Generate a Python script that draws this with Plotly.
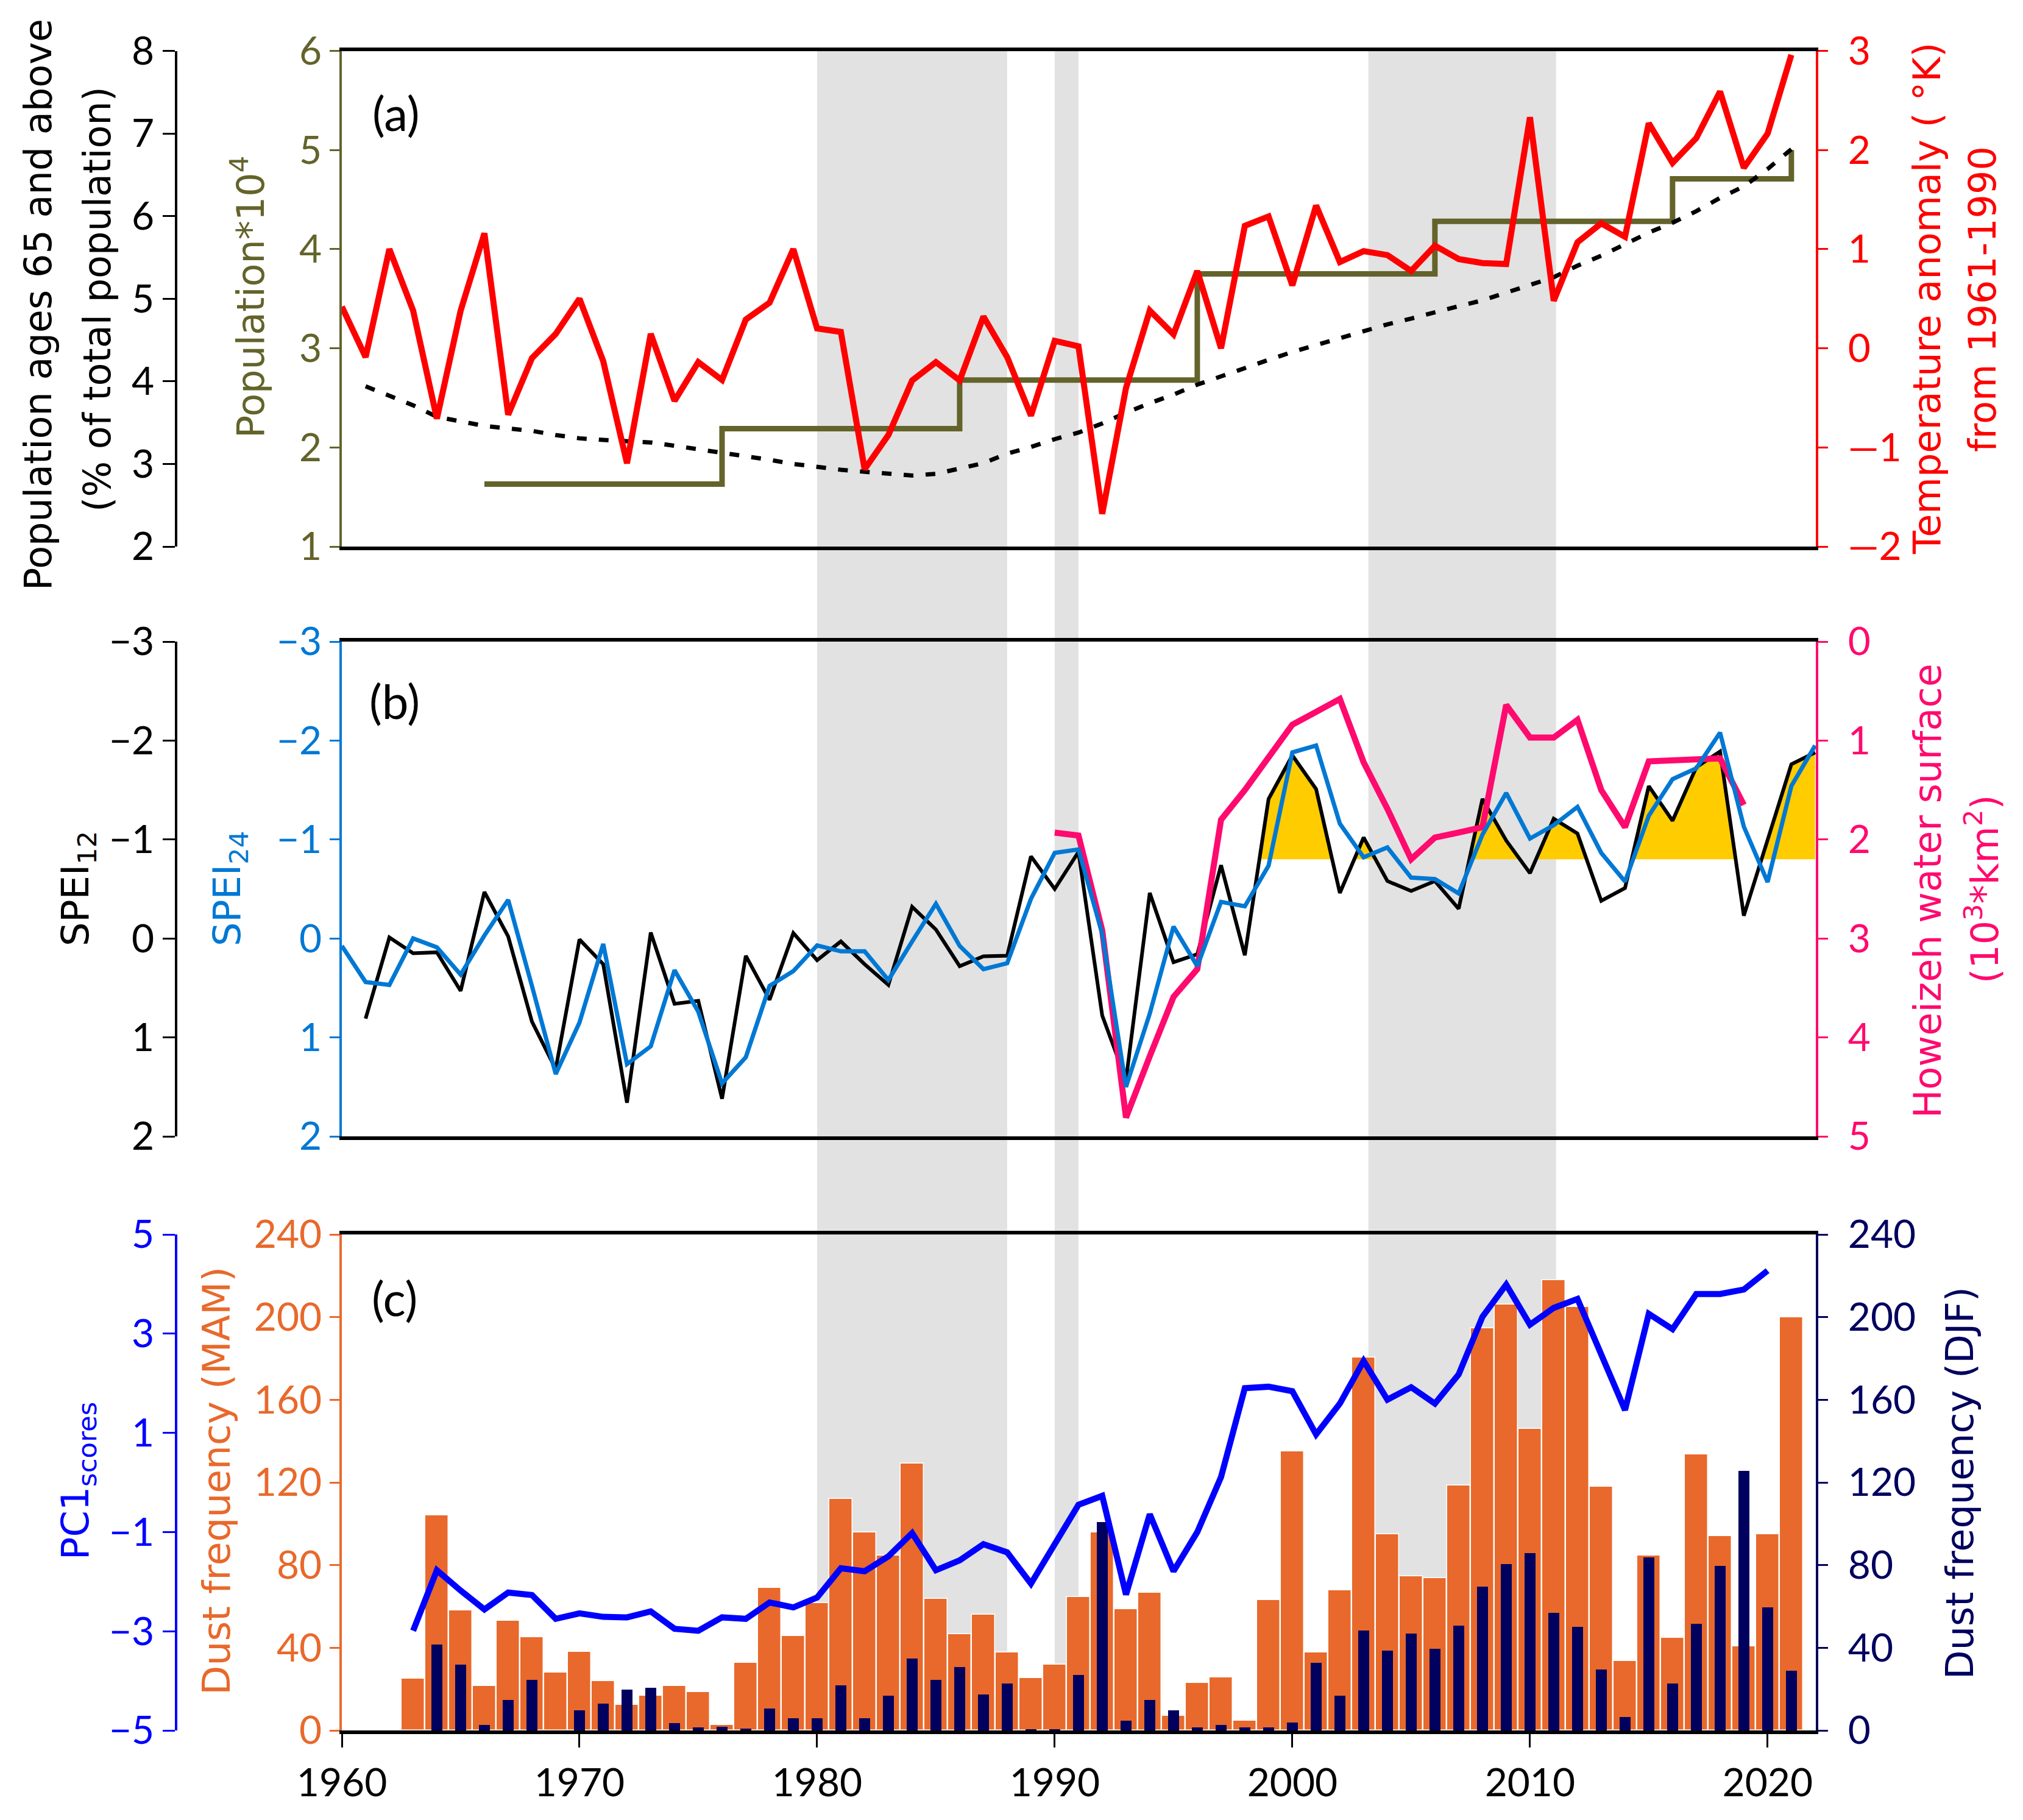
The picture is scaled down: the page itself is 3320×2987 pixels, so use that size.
import plotly.graph_objects as go

WIDTH = 3320
HEIGHT = 2987

# grey periods shared by the three panels
band_starts = [1980.0, 1990.0, 2003.2]
band_ends = [1988.0, 1991.0, 2011.1]

# panel (a)
temp_years = list(range(1960, 2022))
temp_anomaly = [0.42, -0.09, 1.0, 0.38, -0.71, 0.38, 1.16, -0.67, -0.10, 0.145,
                0.50, -0.13, -1.16, 0.145, -0.53, -0.14, -0.32, 0.29, 0.46, 1.0,
                0.20, 0.165, -1.22, -0.875, -0.325, -0.14, -0.325, 0.32, -0.09, -0.68,
                0.075, 0.02, -1.67, -0.40, 0.38, 0.14, 0.78, 0.0, 1.235, 1.33,
                0.635, 1.44, 0.87, 0.98, 0.94, 0.78, 1.035, 0.90, 0.86, 0.85,
                2.33, 0.48, 1.07, 1.26, 1.125, 2.27, 1.87, 2.12, 2.59, 1.82,
                2.165, 2.96]
pop_years = [1966, 1976, 1986, 1996, 2006, 2016, 2021, 2021]
population = [1.63, 2.19, 2.68, 3.75, 4.28, 4.71, 4.71, 5.0]
age_years = list(range(1961, 2022))
age_65 = [3.94, 3.83, 3.71, 3.57, 3.515, 3.46, 3.43, 3.40, 3.35, 3.31,
          3.29, 3.28, 3.26, 3.22, 3.18, 3.14, 3.10, 3.05, 3.00, 2.96,
          2.93, 2.905, 2.88, 2.86, 2.88, 2.94, 3.01, 3.125, 3.205, 3.30,
          3.38, 3.49, 3.62, 3.735, 3.84, 3.96, 4.06, 4.17, 4.26, 4.355,
          4.44, 4.52, 4.60, 4.69, 4.76, 4.84, 4.91, 4.98, 5.07, 5.17,
          5.26, 5.40, 5.52, 5.66, 5.80, 5.92, 6.06, 6.22, 6.36, 6.57, 6.81]

# panel (b)
spei12_years = list(range(1961, 2023))
spei12 = [0.81, -0.01, 0.15, 0.14, 0.53, -0.47, -0.02, 0.84, 1.32, 0.01,
          0.26, 1.66, -0.06, 0.66, 0.63, 1.62, 0.175, 0.62, -0.055, 0.22,
          0.03, 0.26, 0.47, -0.32, -0.09, 0.28, 0.18, 0.175, -0.83, -0.50,
          -0.875, 0.78, 1.43, -0.46, 0.24, 0.16, -0.74, 0.17, -1.41, -1.85,
          -1.51, -0.46, -1.02, -0.58, -0.48, -0.58, -0.30, -1.41, -0.99, -0.66,
          -1.21, -1.06, -0.38, -0.51, -1.54, -1.19, -1.73, -1.89, -0.23, -0.99,
          -1.76, -1.88]
spei24_years = list(range(1960, 2023))
spei24 = [0.075, 0.44, 0.47, 0.0, 0.09, 0.365, -0.03, -0.39, 0.48, 1.37,
          0.85, 0.056, 1.27, 1.09, 0.32, 0.74, 1.465, 1.20, 0.48, 0.33,
          0.07, 0.13, 0.13, 0.42, 0.03, -0.35, 0.075, 0.31, 0.25, -0.40,
          -0.865, -0.90, -0.045, 1.50, 0.76, -0.12, 0.28, -0.37, -0.325, -0.735,
          -1.88, -1.95, -1.16, -0.82, -0.92, -0.615, -0.60, -0.455, -1.05, -1.47,
          -1.01, -1.145, -1.33, -0.865, -0.575, -1.24, -1.61, -1.72, -2.08, -1.13,
          -0.57, -1.54, -1.95]
water_years = list(range(1990, 2020))
water_surface = [1.93, 1.96, 2.92, 4.81, 4.19, 3.59, 3.31, 1.80, 1.50, 1.17,
                 0.84, 0.71, 0.58, 1.22, 1.69, 2.20, 1.98, 1.93, 1.875, 0.64,
                 0.97, 0.97, 0.79, 1.50, 1.875, 1.21, 1.20, 1.19, 1.18, 1.65]
drought_threshold = -0.8

# panel (c)
dust_years = list(range(1963, 2022))
dust_mam = [25, 104, 58, 21.6, 53, 45, 28, 38, 24, 12.5,
            16.8, 21.6, 18.7, 2.7, 32.8, 69, 45.8, 61.6, 112, 95.7,
            84.6, 129, 63.6, 46.6, 56, 37.6, 25.5, 31.8, 64.7, 95.7,
            58.7, 66.7, 7, 23, 25.7, 4.7, 63, 135, 37.6, 67.8,
            180.5, 95, 74.5, 73.7, 118.5, 194.6, 206, 146, 218, 205,
            117.8, 33.7, 84.6, 44.8, 133.7, 94, 40.6, 95, 200]
dust_djf = [0, 41.7, 31.8, 2.7, 14.8, 24.6, 0, 9.7, 12.9, 19.7,
            20.7, 3.5, 1.6, 1.8, 0.8, 10.5, 5.8, 5.8, 21.8, 5.8,
            16.8, 34.7, 24.6, 30.8, 17.5, 22.6, 0.6, 0.6, 26.9, 100.8,
            4.7, 14.8, 9.6, 1.6, 2.7, 1.6, 1.6, 3.7, 32.8, 16.8,
            48.5, 38.6, 46.8, 39.6, 50.7, 69.6, 80.5, 85.8, 57, 50,
            29.6, 6.6, 83.8, 22.6, 51.7, 79.7, 125.6, 59.5, 28.9]
pc1_years = list(range(1963, 2021))
pc1_scores = [-2.99, -1.77, -2.18, -2.56, -2.22, -2.27, -2.75, -2.64, -2.71, -2.72,
              -2.60, -2.95, -2.99, -2.72, -2.75, -2.42, -2.52, -2.32, -1.73, -1.79,
              -1.49, -1.02, -1.77, -1.57, -1.245, -1.41, -2.04, -1.26, -0.45, -0.27,
              -2.26, -0.64, -1.79, -1.00, 0.11, 1.90, 1.93, 1.84, 0.97, 1.59,
              2.45, 1.67, 1.92, 1.59, 2.18, 3.34, 3.99, 3.18, 3.52, 3.70,
              2.61, 1.46, 3.40, 3.09, 3.80, 3.80, 3.89, 4.27]

OLIVE = "#63632b"
RED = "#ff0000"
SKY = "#0078d4"
PINK = "#ff0a6e"
BLUE = "#0000ff"
ORANGE = "#e8692b"
NAVY = "#00005f"
TICK_FONT = "Lato"
TITLE_FONT = "DejaVu Sans"


def dom(top, bottom):
    return [1 - bottom / HEIGHT, 1 - top / HEIGHT]


def px_x(x):
    return x / WIDTH


def px_y(y):
    return 1 - y / HEIGHT


def above_threshold(years, values, level):
    # outline of the parts of a series on the negative side of level
    xs, ys = [], []
    inside = False
    for i, (year, value) in enumerate(zip(years, values)):
        now_inside = value < level
        if i > 0 and now_inside != inside:
            prev = values[i - 1]
            cross = years[i - 1] + (level - prev) / (value - prev)
            xs.append(cross)
            ys.append(level)
            if not now_inside:
                xs.extend([None])
                ys.extend([None])
        elif i == 0 and now_inside:
            xs.append(year)
            ys.append(level)
        if now_inside:
            xs.append(year)
            ys.append(value)
        inside = now_inside
    if inside:
        xs.append(years[-1])
        ys.append(level)
    return xs, ys


def y_axis(color, rng, dtick, domain, side="left", position=None, overlaying=None, ticklen=16,
           ticktext=None, tickvals=None, standoff=0, tick0=0):
    axis = dict(
        range=rng,
        domain=domain,
        side=side,
        showgrid=False,
        zeroline=False,
        showline=True,
        linecolor=color,
        linewidth=4,
        ticks="outside",
        ticklen=ticklen,
        tickwidth=3,
        tickcolor=color,
        dtick=dtick,
        tick0=tick0,
        ticklabelstandoff=standoff,
        tickfont=dict(family=TICK_FONT, size=64, color=color),
    )
    if position is not None:
        axis["anchor"] = "free"
        axis["position"] = position
    if overlaying:
        axis["overlaying"] = overlaying
    if tickvals:
        axis["tickmode"] = "array"
        axis["tickvals"] = tickvals
        axis["ticktext"] = ticktext
    return axis


def x_axis(anchor, labels=False):
    return dict(
        domain=[561 / WIDTH, 2980 / WIDTH],
        range=[1960, 2022.03],
        anchor=anchor,
        showgrid=False,
        zeroline=False,
        showline=True,
        mirror=True,
        linecolor="#000000",
        linewidth=6,
        layer="below traces",
        ticks="outside" if labels else "",
        ticklen=22,
        tickwidth=3,
        tickcolor="#000000",
        dtick=10,
        tick0=1960,
        showticklabels=labels,
        ticklabelstandoff=3,
        tickfont=dict(family=TICK_FONT, size=64, color="#000000"),
    )


def note(text, x, y, color, size=62, angle=-90, family=TITLE_FONT):
    return dict(
        text=text, x=px_x(x), y=px_y(y), xref="paper", yref="paper",
        xanchor="center", yanchor="middle", showarrow=False, textangle=angle,
        font=dict(family=family, size=size, color=color),
    )


fig = go.Figure()

# (a)
fig.add_trace(go.Scatter(x=pop_years, y=population, mode="lines", xaxis="x", yaxis="y",
                         line=dict(color=OLIVE, width=9, shape="hv")))
fig.add_trace(go.Scatter(x=age_years, y=age_65, mode="lines", xaxis="x", yaxis="y2",
                         line=dict(color="#000000", width=7, dash="16px,20px")))
fig.add_trace(go.Scatter(x=temp_years, y=temp_anomaly, mode="lines", xaxis="x", yaxis="y3",
                         line=dict(color=RED, width=10)))

# (b) both SPEI series share one scale, y4 and y6 only differ by where the ticks sit
fill_x, fill_y = above_threshold(spei12_years, spei12, drought_threshold)
fig.add_trace(go.Scatter(x=fill_x, y=fill_y, mode="none", fill="toself", fillcolor="#ffcc00",
                         xaxis="x2", yaxis="y4"))
fig.add_trace(go.Scatter(x=spei12_years, y=spei12, mode="lines", xaxis="x2", yaxis="y4",
                         line=dict(color="#000000", width=6)))
fig.add_trace(go.Scatter(x=water_years, y=water_surface, mode="lines", xaxis="x2", yaxis="y5",
                         line=dict(color=PINK, width=10)))
fig.add_trace(go.Scatter(x=spei24_years, y=spei24, mode="lines", xaxis="x2", yaxis="y6",
                         line=dict(color=SKY, width=7)))

# (c)
fig.add_trace(go.Bar(x=dust_years, y=dust_mam, width=0.96, xaxis="x3", yaxis="y7",
                     marker=dict(color=ORANGE, line=dict(color="#ffffff", width=1.5))))
fig.add_trace(go.Bar(x=dust_years, y=dust_djf, width=0.46, xaxis="x3", yaxis="y8",
                     marker=dict(color=NAVY, line=dict(width=0))))
fig.add_trace(go.Scatter(x=pc1_years, y=pc1_scores, mode="lines", xaxis="x3", yaxis="y9",
                         line=dict(color=BLUE, width=10)))

shapes = []
for start, end in zip(band_starts, band_ends):
    shapes.append(dict(type="rect", xref="x3", yref="paper", x0=start, x1=end,
                       y0=px_y(2840), y1=px_y(84), layer="below",
                       fillcolor="#e2e2e2", line=dict(width=0)))

annotations = [
    note("Population ages 65 and above", 63, 500, "#000000"),
    note("(% of total population)", 159, 491, "#000000"),
    note("Population*10<sup>4</sup>", 408, 488, OLIVE),
    note("Temperature anomaly ( °K)", 3163, 490, RED),
    note("from 1961-1990", 3253, 491, RED),
    note("SPEI<sub>12</sub>", 127, 1459, "#000000"),
    note("SPEI<sub>24</sub>", 376, 1459, SKY),
    note("Howeizeh water surface", 3163, 1462, PINK),
    note("(10<sup>3</sup>*km<sup>2</sup>)", 3253, 1459, PINK),
    note("PC1<sub>scores</sub>", 127, 2431, BLUE),
    note("Dust frequency (MAM)", 355, 2431, ORANGE, size=63),
    note("Dust frequency (DJF)", 3216, 2434, NAVY),
    note("(a)", 650, 185, "#000000", size=78, angle=0, family=TICK_FONT),
    note("(b)", 647, 1150, "#000000", size=78, angle=0, family=TICK_FONT),
    note("(c)", 647, 2130, "#000000", size=78, angle=0, family=TICK_FONT),
]

left_outer = 289 / WIDTH
panel_a = dom(83.5, 897)
panel_b = dom(1053, 1865)
panel_c = dom(2026, 2840)

fig.update_layout(
    width=WIDTH,
    height=HEIGHT,
    margin=dict(l=0, r=0, t=0, b=0, autoexpand=False),
    paper_bgcolor="#ffffff",
    plot_bgcolor="rgba(0,0,0,0)",
    showlegend=False,
    barmode="overlay",
    bargap=0,
    shapes=shapes,
    annotations=annotations,
    xaxis=x_axis("y"),
    xaxis2=x_axis("y4"),
    xaxis3=x_axis("y7", labels=True),
    yaxis=y_axis(OLIVE, [1, 6], 1, panel_a),
    yaxis2=y_axis("#000000", [2, 8], 1, dom(83.5, 899.5), position=left_outer, overlaying="y",
                  ticklen=20, standoff=1),
    yaxis3=y_axis(RED, [-2, 3], 1, panel_a, side="right", overlaying="y", tickvals=[-2, -1, 0, 1, 2, 3],
                  ticktext=["—2", "—1", "0", "1", "2", "3"], standoff=20),
    yaxis4=y_axis(SKY, [2, -3], 1, panel_b),
    yaxis5=y_axis(PINK, [5, 0], 1, panel_b, side="right", overlaying="y4", standoff=20),
    yaxis6=y_axis("#000000", [2, -3], 1, panel_b, position=left_outer, overlaying="y4",
                  ticklen=20, standoff=1),
    yaxis7=y_axis(ORANGE, [0, 240], 40, panel_c),
    yaxis8=y_axis(NAVY, [0, 240], 40, panel_c, side="right", overlaying="y7", standoff=20),
    yaxis9=y_axis(BLUE, [-5, 5], 2, dom(2026, 2841.5), position=left_outer, overlaying="y7",
                  ticklen=20, tick0=-5, standoff=1),
)

fig.write_html("out.html", post_script="document.body.style.margin = '0';",
               config={"displayModeBar": False})
